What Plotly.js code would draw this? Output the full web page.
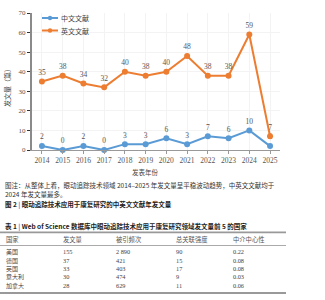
<!DOCTYPE html>
<html>
<head>
<meta charset="utf-8">
<script src="https://cdn.plot.ly/plotly-3.0.1.min.js"></script>
<style>html,body{margin:0;padding:0;background:#fff;}#chart{width:325px;height:300px;}</style>
</head>
<body>
<div id="chart"></div>
<script>
// ---- data ----
var years = [2014, 2015, 2016, 2017, 2018, 2019, 2020, 2021, 2022, 2023, 2024, 2025];
var chineseCounts = [2, 0, 2, 0, 3, 3, 6, 3, 7, 6, 10, 2];
var englishCounts = [35, 38, 34, 32, 40, 38, 40, 48, 38, 38, 59, 7];
var seriesNames = ["中文文献", "英文文献"];

var tableHeaders = ["国家", "发文量", "被引频次", "总关联强度", "中介中心性"];
var countries = ["美国", "德国", "英国", "意大利", "加拿大"];
var publications = ["155", "37", "33", "30", "28"];
var citations = ["2 890", "421", "403", "474", "629"];
var linkStrength = ["90", "15", "17", "9", "11"];
var centrality = ["0.22", "0.08", "0.08", "0.03", "0.06"];

var xTitle = "发表年份";
var yTitle = "发文量（篇）";
var captionLine1 = "图注：从整体上看，眼动追踪技术领域 2014–2025 年发文量呈平稳波动趋势，中英文文献均于";
var captionLine2 = "2024 年发文量最多。";
var figTitle = "图 2 <span style='color:#3b7dc4'>|</span> 眼动追踪技术应用于康复研究的中英文文献年发文量";
var tableTitle = "表 1 <span style='color:#3b7dc4'>|</span> Web of Science 数据库中眼动追踪技术应用于康复研究领域发文量前 5 的国家";

// ---- layout helpers (pixel -> paper) ----
var W = 325, H = 300;
var M = {l: 32, r: 45, t: 13, b: 150};
var PW = W - M.l - M.r, PH = H - M.t - M.b;
function px(x) { return (x - M.l) / PW; }
function py(y) { return (H - M.b - y) / PH; }

var serif = "Liberation Serif, 'Noto Sans CJK SC', serif";
var cjk = "'Noto Sans CJK SC', 'Noto Sans', sans-serif";

var blue = "#5b9bd5", orange = "#ed7d31";
var colors = [blue, orange];

var traces = [
  {
    x: years, y: chineseCounts, name: seriesNames[0],
    type: "scatter", mode: "lines+markers+text",
    line: {color: blue, width: 2}, marker: {color: blue, size: 6},
    text: chineseCounts.map(String), textposition: "top center",
    textfont: {family: serif, size: 7.5, color: "#555"}, cliponaxis: false
  },
  {
    x: years, y: englishCounts, name: seriesNames[1],
    type: "scatter", mode: "lines+markers+text",
    line: {color: orange, width: 2}, marker: {color: orange, size: 6},
    text: englishCounts.map(String), textposition: "top center",
    textfont: {family: serif, size: 7.5, color: "#555"}, cliponaxis: false
  }
];

var annotations = [];
var shapes = [];
function addText(text, x, y, opts) {
  opts = opts || {};
  annotations.push({
    text: text, xref: "paper", yref: "paper", x: px(x), y: py(y),
    xanchor: opts.xanchor || "left", yanchor: "middle", showarrow: false,
    textangle: opts.angle || 0, borderpad: 0,
    font: {family: opts.family || cjk, size: opts.size || 7, color: opts.color || "#333"}
  });
}
function addLine(x0, x1, y, width, color) {
  shapes.push({type: "line", xref: "paper", yref: "paper",
    x0: px(x0), x1: px(x1), y0: py(y), y1: py(y),
    line: {color: color, width: width}});
}

// legend (drawn as key lines + labels)
seriesNames.forEach(function (name, i) {
  var ly = 18 + i * 12.5;
  addLine(42, 58, ly, 2, colors[i]);
  shapes.push({type: "circle", xref: "paper", yref: "paper",
    x0: px(47.8), x1: px(52.2), y0: py(ly + 2.2), y1: py(ly - 2.2),
    fillcolor: colors[i], line: {width: 0}});
  addText(name, 60, ly, {size: 7, color: "#444"});
});

// axis titles
addText(xTitle, 145, 172, {xanchor: "center", size: 6.5, color: "#444"});
addText(yTitle, 7, 86, {xanchor: "center", size: 7, color: "#444", angle: -90});

// captions
addText(captionLine1, 4, 184.6, {size: 6.5, color: "#333"});
addText(captionLine2, 4, 193.8, {size: 6.5, color: "#333"});
addText("<b>" + figTitle + "</b>", 4, 203.5, {size: 6.5, color: "#222"});
addText("<b>" + tableTitle + "</b>", 4, 226, {size: 6.5, color: "#222"});

// table
var colX = [5, 62, 115, 175, 232];
var rowY = [251.7, 260, 268.3, 276.7, 285];
addLine(0, 286, 232.3, 1.8, "#999");
addLine(0, 286, 245.5, 1.2, "#aaa");
addLine(0, 286, 293, 1.8, "#999");
tableHeaders.forEach(function (h, i) {
  addText(h, colX[i], 239.3, {size: 6.3, color: "#555"});
});
var cols = [countries, publications, citations, linkStrength, centrality];
cols.forEach(function (col, i) {
  col.forEach(function (v, r) {
    addText(v, colX[i], rowY[r], {size: i === 0 ? 6 : 6.3, color: "#444", family: i === 0 ? cjk : serif});
  });
});

var layout = {
  width: W, height: H,
  margin: {l: M.l, r: M.r, t: M.t, b: M.b, pad: 0},
  paper_bgcolor: "#fff", plot_bgcolor: "#fff",
  showlegend: false,
  xaxis: {
    range: [2013.52, 2025.48], tickmode: "array", tickvals: years,
    ticktext: years.map(String), showline: true, linecolor: "#999", linewidth: 1,
    ticks: "outside", ticklen: 3, tickcolor: "#999", showgrid: true, gridcolor: "#f3f3f3",
    zeroline: false, tickfont: {family: serif, size: 7.5, color: "#555"}
  },
  yaxis: {
    range: [0, 70], dtick: 10, showline: true, linecolor: "#8a8a8a", linewidth: 2,
    ticks: "outside", ticklen: 3, tickcolor: "#333", showgrid: true, gridcolor: "#f3f3f3",
    zeroline: false, tickfont: {family: serif, size: 7, color: "#555"}
  },
  annotations: annotations,
  shapes: shapes
};

Plotly.newPlot("chart", traces, layout, {staticPlot: true, displayModeBar: false});
</script>
</body>
</html>
